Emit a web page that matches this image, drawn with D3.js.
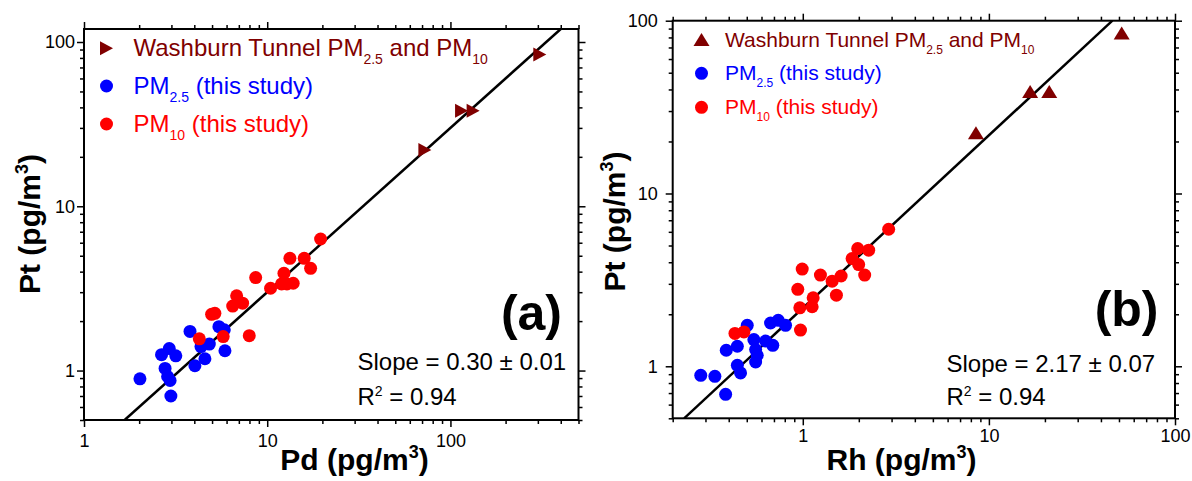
<!DOCTYPE html>
<html><head><meta charset="utf-8">
<script src="https://cdn.jsdelivr.net/npm/d3@7/dist/d3.min.js"></script>
<style>
html,body{margin:0;padding:0;background:#fff;}
svg{display:block;font-family:Arial,"Liberation Sans",sans-serif;}
</style></head><body>
<svg id="chart" width="1192" height="481"></svg>
<script>
// ---------- data ----------
// Panel (a): Pt vs Pd
const tunnelPd   = [72.5, 115, 133, 307.5];
const tunnelPtA  = [22.0, 38.1, 38.1, 83.8];
const pm25Pd     = [2.02, 2.65, 2.92, 3.17, 2.77, 2.86, 2.95, 2.98, 3.79, 4.03, 4.35, 4.57, 4.83, 5.45, 5.83, 5.88];
const pm25PtA    = [0.89, 1.25, 1.36, 1.23, 1.03, 0.92, 0.87, 0.70, 1.73, 1.07, 1.40, 1.18, 1.45, 1.85, 1.77, 1.32];
const pm10Pd     = [19.56, 13.30, 15.92, 17.25, 12.34, 8.65, 10.43, 11.98, 12.81, 13.86, 6.81, 7.34, 6.48, 4.97, 5.18, 7.98, 5.75, 4.26];
const pm10PtA    = [6.32, 4.82, 4.82, 4.19, 3.91, 3.68, 3.17, 3.37, 3.37, 3.40, 2.85, 2.57, 2.47, 2.20, 2.23, 1.63, 1.61, 1.56];
const slopeA     = 0.30;
// Panel (b): Pt vs Rh
const tunnelRh   = [8.52, 16.66, 21.1, 51.7];
const tunnelPtB  = [22.3, 38.7, 38.7, 84.4];
const pm25Rh     = [0.283, 0.337, 0.385, 0.388, 0.445, 0.503, 0.445, 0.463, 0.546, 0.558, 0.569, 0.558, 0.631, 0.690, 0.671, 0.738, 0.808];
const pm25PtB    = [0.887, 0.875, 0.688, 1.238, 1.306, 1.727, 1.013, 0.915, 1.428, 1.249, 1.158, 1.059, 1.401, 1.323, 1.781, 1.846, 1.727];
const pm10Rh     = [2.893, 1.973, 2.26, 1.841, 1.997, 2.151, 0.993, 1.244, 1.438, 1.607, 0.940, 1.137, 1.516, 0.964, 1.123, 0.972, 0.432, 0.483];
const pm10PtB    = [6.21, 4.80, 4.70, 4.20, 3.88, 3.37, 3.65, 3.37, 3.11, 3.33, 2.79, 2.49, 2.58, 2.18, 2.21, 1.62, 1.55, 1.58];
const slopeB     = 2.17;
// tick labels
const xTicksA = [1, 10, 100];
const xTicksB = [1, 10, 100];
const yTicks  = [1, 10, 100];
const statsA = ["Slope = 0.30 \u00B1 0.01", "0.94"];
const statsB = ["Slope = 2.17 \u00B1 0.07", "0.94"];

// ---------- drawing ----------
const svg = d3.select("#chart");
const C_TUN = "#800000", C_25 = "#0000ff", C_10 = "#ff0000";

function minorTicks(domain, majors) {
  const out = [];
  const e0 = Math.floor(Math.log10(domain[0])), e1 = Math.ceil(Math.log10(domain[1]));
  for (let e = e0; e <= e1; e++) for (let k = 1; k <= 9; k++) {
    const v = +(k * Math.pow(10, e)).toPrecision(6);
    if (v >= domain[0] - 1e-9 && v <= domain[1] + 1e-9 && !majors.includes(v)) out.push(v);
  }
  return out;
}

function richText(g, x, y, size, segs, opts) {
  opts = opts || {};
  const t = g.append("text").attr("x", x).attr("y", y).attr("font-size", size)
    .attr("fill", opts.fill || "#000").attr("font-weight", opts.bold ? "bold" : null)
    .attr("text-anchor", opts.anchor || "start");
  if (opts.transform) t.attr("transform", opts.transform);
  let shift = 0;
  segs.forEach(s => {
    let target = 0, fs = size;
    if (s.sub) { target = opts.subDy; fs = opts.subSize; }
    if (s.sup) { target = -opts.supDy; fs = opts.supSize; }
    t.append("tspan").attr("dy", target - shift).attr("font-size", fs).text(s.t);
    shift = target;
  });
  return t;
}

function panel(cfg) {
  const x = d3.scaleLog().domain(cfg.xDom).range([cfg.L, cfg.R]);
  const y = d3.scaleLog().domain(cfg.yDom).range([cfg.B, cfg.T]);
  const g = svg.append("g");
  const clipId = "clip" + cfg.id;
  svg.append("clipPath").attr("id", clipId).append("rect")
    .attr("x", cfg.L).attr("y", cfg.T).attr("width", cfg.R - cfg.L).attr("height", cfg.B - cfg.T);

  const xMin = minorTicks(cfg.xDom, cfg.xTicks), yMin = minorTicks(cfg.yDom, yTicks);
  const styleAxis = a => { a.select(".domain").remove(); a.selectAll("line").attr("stroke", "#000").attr("stroke-width", 1.5); };
  // majors with labels
  const ax = g.append("g").attr("transform", `translate(0,${cfg.B})`)
    .call(d3.axisBottom(x).tickValues(cfg.xTicks).tickFormat(d3.format("d")).tickSize(7).tickPadding(cfg.xPad));
  ax.call(styleAxis); ax.selectAll("text").attr("font-size", cfg.tickFs).attr("font-family", null).attr("fill", "#000");
  const ay = g.append("g").attr("transform", `translate(${cfg.L},0)`)
    .call(d3.axisLeft(y).tickValues(yTicks).tickFormat(d3.format("d")).tickSize(7).tickPadding(cfg.yPad));
  ay.call(styleAxis); ay.selectAll("text").attr("font-size", cfg.tickFs).attr("font-family", null).attr("fill", "#000");
  g.append("g").attr("transform", `translate(0,${cfg.T})`)
    .call(d3.axisTop(x).tickValues(cfg.xTicks).tickFormat("").tickSize(7)).call(styleAxis);
  g.append("g").attr("transform", `translate(${cfg.R},0)`)
    .call(d3.axisRight(y).tickValues(yTicks).tickFormat("").tickSize(7)).call(styleAxis);
  // minors
  [[d3.axisBottom(x), cfg.B, 0, xMin], [d3.axisTop(x), cfg.T, 0, xMin]].forEach(([a, ty, _, v]) =>
    g.append("g").attr("transform", `translate(0,${ty})`).call(a.tickValues(v).tickFormat("").tickSize(4)).call(styleAxis));
  [[d3.axisLeft(y), cfg.L, yMin], [d3.axisRight(y), cfg.R, yMin]].forEach(([a, tx, v]) =>
    g.append("g").attr("transform", `translate(${tx},0)`).call(a.tickValues(v).tickFormat("").tickSize(4)).call(styleAxis));

  // frame
  g.append("rect").attr("x", cfg.L).attr("y", cfg.T).attr("width", cfg.R - cfg.L).attr("height", cfg.B - cfg.T)
    .attr("fill", "none").attr("stroke", "#000").attr("stroke-width", 2);

  // fit line y = slope * x
  const lx0 = cfg.yDom[0] / cfg.slope, lx1 = cfg.yDom[1] / cfg.slope;
  g.append("line").attr("clip-path", `url(#${clipId})`)
    .attr("x1", x(lx0)).attr("y1", y(lx0 * cfg.slope)).attr("x2", x(lx1)).attr("y2", y(lx1 * cfg.slope))
    .attr("stroke", "#000").attr("stroke-width", 2.5);

  const pts = g.append("g").attr("clip-path", `url(#${clipId})`);
  const dot = (xs, ys, col) => pts.selectAll(null).data(xs.map((v, i) => [v, ys[i]])).enter()
    .append("circle").attr("cx", d => x(d[0])).attr("cy", d => y(d[1])).attr("r", 6.5).attr("fill", col);
  dot(cfg.p25x, cfg.p25y, C_25);
  dot(cfg.p10x, cfg.p10y, C_10);
  pts.selectAll(null).data(cfg.tx.map((v, i) => [v, cfg.ty[i]])).enter()
    .append("path").attr("d", cfg.tri).attr("fill", C_TUN)
    .attr("transform", d => `translate(${x(d[0])},${y(d[1])})`);

  // legend
  const lg = cfg.leg;
  g.append("path").attr("d", cfg.tri).attr("fill", C_TUN).attr("transform", `translate(${lg.mx},${lg.y[0]})`);
  g.append("circle").attr("cx", lg.mx).attr("cy", lg.y[1]).attr("r", 6.5).attr("fill", C_25);
  g.append("circle").attr("cx", lg.mx).attr("cy", lg.y[2]).attr("r", 6.5).attr("fill", C_10);
  const lo = { subDy: lg.subDy, subSize: lg.subFs };
  richText(g, lg.tx, lg.y[0] + lg.base, lg.fs, [{t: "Washburn Tunnel PM"}, {t: "2.5", sub: 1}, {t: " and PM"}, {t: "10", sub: 1}], Object.assign({fill: C_TUN}, lo));
  richText(g, lg.tx, lg.y[1] + lg.base, lg.fs, [{t: "PM"}, {t: "2.5", sub: 1}, {t: " (this study)"}], Object.assign({fill: C_25}, lo));
  richText(g, lg.tx, lg.y[2] + lg.base, lg.fs, [{t: "PM"}, {t: "10", sub: 1}, {t: " (this study)"}], Object.assign({fill: C_10}, lo));

  // panel letter and stats
  g.append("text").attr("x", cfg.letter[0]).attr("y", cfg.letter[1]).attr("text-anchor", "end")
    .attr("font-size", 50).attr("font-weight", "bold").text(cfg.letterText);
  g.append("text").attr("x", cfg.stats[0]).attr("y", cfg.stats[1]).attr("font-size", cfg.statFs).text(cfg.statText[0]);
  richText(g, cfg.stats[0], cfg.stats[2], cfg.statFs, [{t: "R"}, {t: "2", sup: 1}, {t: " = " + cfg.statText[1]}], {supDy: 9, supSize: 14});

  // axis titles
  const so = { supDy: 12, supSize: 18, bold: true, anchor: "middle" };
  richText(g, cfg.xt[0], cfg.xt[1], 30, [{t: cfg.xName + " (pg/m"}, {t: "3", sup: 1}, {t: ")"}], so);
  richText(g, 0, 0, 30, [{t: "Pt (pg/m"}, {t: "3", sup: 1}, {t: ")"}],
    Object.assign({}, so, {transform: `translate(${cfg.yt[0]},${cfg.yt[1]}) rotate(-90)`}));
}

const triRight = "M-6.5,-7L6.5,0L-6.5,7Z";
const triUp = "M0,-7L8,6L-8,6Z";

panel({
  id: "a", L: 84, R: 578.5, T: 29, B: 420, xDom: [1, 500], yDom: [0.5, 120], xTicks: xTicksA,
  tickFs: 18, xPad: 7, yPad: 2, slope: slopeA,
  p25x: pm25Pd, p25y: pm25PtA, p10x: pm10Pd, p10y: pm10PtA, tx: tunnelPd, ty: tunnelPtA, tri: triRight,
  leg: { mx: 106.5, tx: 133.5, y: [48.3, 86, 124], base: 7.5, fs: 24, subFs: 14, subDy: 8 },
  letter: [562, 330], letterText: "(a)", stats: [357.5, 370, 404.5], statFs: 24, statText: statsA,
  xName: "Pd", xt: [354.5, 470], yt: [39.5, 224]
});
panel({
  id: "b", L: 672.7, R: 1175, T: 20.7, B: 418.3, xDom: [0.2, 100], yDom: [0.5, 100], xTicks: xTicksB,
  tickFs: 18, xPad: 4, yPad: 8, slope: slopeB,
  p25x: pm25Rh, p25y: pm25PtB, p10x: pm10Rh, p10y: pm10PtB, tx: tunnelRh, ty: tunnelPtB, tri: triUp,
  leg: { mx: 701.5, tx: 725, y: [40, 73.3, 107.3], base: 7, fs: 21, subFs: 12, subDy: 7 },
  letter: [1158.5, 326], letterText: "(b)", stats: [946.5, 371.5, 405], statFs: 24, statText: statsB,
  xName: "Rh", xt: [901.5, 470], yt: [625, 221.5]
});
</script>
</body></html>
